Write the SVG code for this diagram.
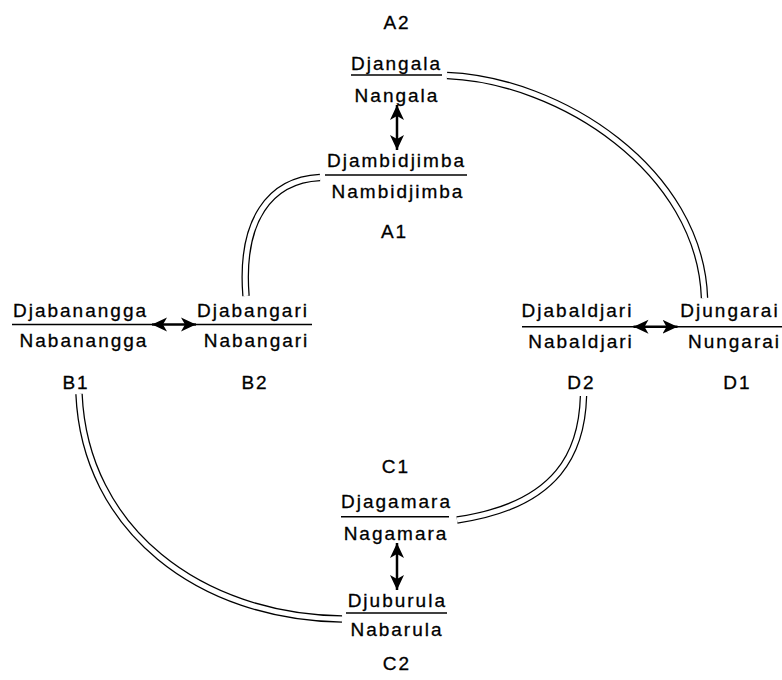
<svg xmlns="http://www.w3.org/2000/svg" width="782" height="680" viewBox="0 0 782 680">
<style>
.t{font-family:"Liberation Sans",Arial,Helvetica,sans-serif;font-size:19px;letter-spacing:2px;text-anchor:middle;fill:#000;stroke:#000;stroke-width:0.3}
.u{stroke:#000;stroke-width:1.5;fill:none}
.dk{stroke:#000;stroke-width:7.5;fill:none}
.dw{stroke:#fff;stroke-width:5;fill:none}
.ar{stroke:#000;stroke-width:2.5;fill:none;marker-start:url(#h);marker-end:url(#h)}
</style>
<defs>
<marker id="h" markerUnits="userSpaceOnUse" markerWidth="16" markerHeight="15" refX="15" refY="7.5" orient="auto-start-reverse">
<path d="M0,0.5 L15,7.5 L0,14.5 L4,7.5 Z" fill="#000"/>
</marker>
<path id="c1" d="M447,75.5 C560,80 700,170 704.5,298"/>
<path id="c2" d="M320,177.5 C270,180 240,220 246,296"/>
<path id="c3" d="M583.5,396 C582,450 560,505 457,520"/>
<path id="c4" d="M79,394 C85,530 200,617 342,619"/>
</defs>
<rect width="782" height="680" fill="#fff"/>
<g id="connectors">
<use href="#c1" class="dk"/><use href="#c1" class="dw"/>
<use href="#c2" class="dk"/><use href="#c2" class="dw"/>
<use href="#c3" class="dk"/><use href="#c3" class="dw"/>
<use href="#c4" class="dk"/><use href="#c4" class="dw"/>
<line class="ar" x1="397" y1="105" x2="397" y2="150"/>
<line class="ar" x1="397" y1="543" x2="397" y2="590"/>
<line class="ar" x1="152" y1="324.5" x2="196" y2="324.5"/>
<line class="ar" x1="633.5" y1="326.7" x2="677.5" y2="326.7"/>
</g>
<g id="node-A2">
<text class="t" x="397" y="29">A2</text>
<text class="t" x="396.5" y="70">Djangala</text>
<line class="u" x1="351" y1="75" x2="442" y2="75"/>
<text class="t" x="397" y="102">Nangala</text>
</g>
<g id="node-A1">
<text class="t" x="396.5" y="167">Djambidjimba</text>
<line class="u" x1="325" y1="175" x2="467" y2="175"/>
<text class="t" x="398" y="198">Nambidjimba</text>
<text class="t" x="394.5" y="238">A1</text>
</g>
<g id="node-B1">
<text class="t" x="80.5" y="316.5">Djabanangga</text>
<line class="u" x1="12" y1="324.5" x2="152" y2="324.5"/>
<text class="t" x="84" y="347">Nabanangga</text>
<text class="t" x="76" y="388.5">B1</text>
</g>
<g id="node-B2">
<text class="t" x="253" y="316.5">Djabangari</text>
<line class="u" x1="196" y1="324.5" x2="312" y2="324.5"/>
<text class="t" x="256.5" y="347">Nabangari</text>
<text class="t" x="255" y="388.5">B2</text>
</g>
<g id="node-D2">
<text class="t" x="577.5" y="317">Djabaldjari</text>
<line class="u" x1="522" y1="326.7" x2="634" y2="326.7"/>
<text class="t" x="581" y="348">Nabaldjari</text>
<text class="t" x="581.5" y="389">D2</text>
</g>
<g id="node-D1">
<text class="t" x="730" y="317">Djungarai</text>
<line class="u" x1="677" y1="326.7" x2="782" y2="326.7"/>
<text class="t" x="734.5" y="348">Nungarai</text>
<text class="t" x="737.5" y="389">D1</text>
</g>
<g id="node-C1">
<text class="t" x="396" y="473">C1</text>
<text class="t" x="396.5" y="508">Djagamara</text>
<line class="u" x1="341" y1="516.7" x2="449" y2="516.7"/>
<text class="t" x="396" y="540">Nagamara</text>
</g>
<g id="node-C2">
<text class="t" x="397.3" y="607">Djuburula</text>
<line class="u" x1="346" y1="613" x2="447" y2="613"/>
<text class="t" x="397" y="635.5">Nabarula</text>
<text class="t" x="397" y="670">C2</text>
</g>
</svg>
